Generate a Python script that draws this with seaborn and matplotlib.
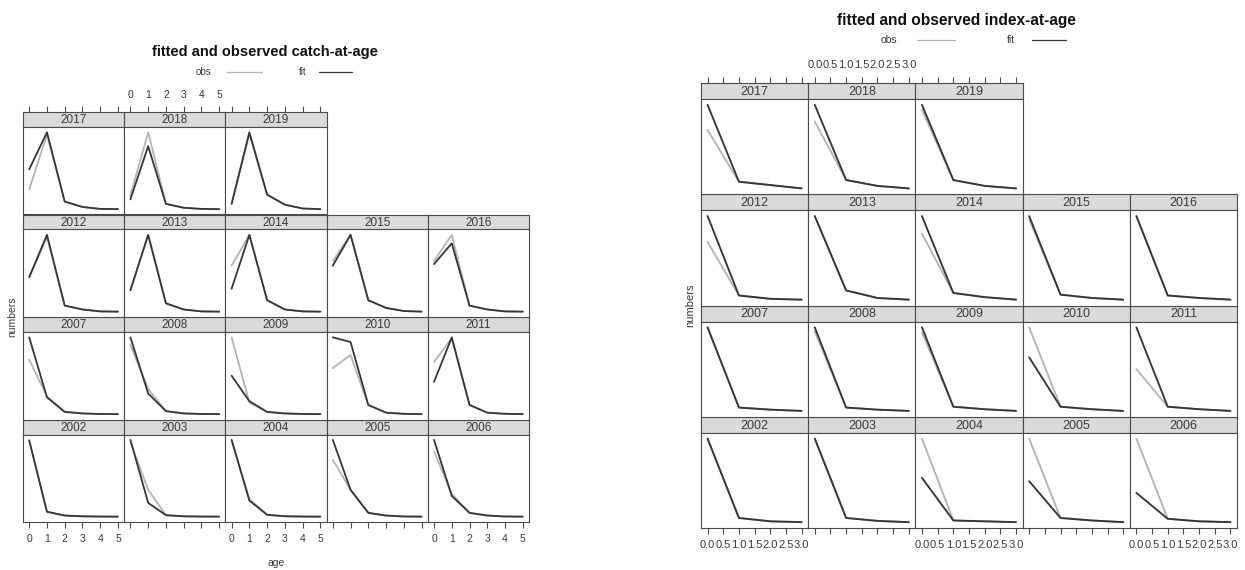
import matplotlib
matplotlib.use("Agg")
import matplotlib.pyplot as plt
from matplotlib.lines import Line2D
import pandas as pd
import seaborn as sns

sns.set_theme(style="white")
plt.rcParams["font.family"] = ["Liberation Sans", "DejaVu Sans"]

W, H = 1245, 570

years = list(range(2002, 2020))
catch_ages = [0, 1, 2, 3, 4, 5]
index_ages = [0, 1, 2, 3]

# catch-at-age, one row per year 2002..2019 (relative numbers)
catch_obs = [
    [100, 6, 1.5, 0.5, 0.2, 0.1],
    [97, 35, 2, 0.5, 0.2, 0.1],
    [99, 23, 2.5, 0.6, 0.2, 0.1],
    [74, 35, 5, 1.5, 0.3, 0.1],
    [85, 30, 5, 1.5, 0.3, 0.1],
    [71, 23, 3, 1, 0.3, 0.1],
    [90, 33, 4, 1, 0.3, 0.1],
    [100, 15, 3, 1, 0.3, 0.1],
    [60, 77, 12, 2, 0.5, 0.1],
    [68, 99, 12, 2, 0.5, 0.1],
    [45, 97, 8, 3, 0.5, 0.2],
    [28, 100, 11, 3, 0.5, 0.2],
    [60, 100, 15, 3, 0.5, 0.2],
    [66, 100, 15, 5, 1, 0.2],
    [66, 100, 8, 3, 0.5, 0.2],
    [26, 97, 10, 3, 0.5, 0.2],
    [18, 100, 7, 2, 0.5, 0.2],
    [7, 98, 19, 6, 1, 0.2],
]
catch_fit = [
    [99, 6.5, 1.5, 0.5, 0.2, 0.1],
    [100, 18, 2, 0.5, 0.2, 0.1],
    [100, 21, 2.5, 0.6, 0.2, 0.1],
    [100, 35, 5, 1.5, 0.3, 0.1],
    [100, 27, 5, 1.5, 0.3, 0.1],
    [100, 22, 3, 1, 0.3, 0.1],
    [100, 27, 4, 1, 0.3, 0.1],
    [50, 17, 3, 1, 0.3, 0.1],
    [100, 94, 12, 2, 0.5, 0.1],
    [42, 100, 12, 2, 0.5, 0.1],
    [45, 100, 8, 3, 0.5, 0.2],
    [28, 100, 11, 3, 0.5, 0.2],
    [30, 100, 15, 3, 0.5, 0.2],
    [60, 100, 15, 5, 1, 0.2],
    [62, 89, 8, 3, 0.5, 0.2],
    [52, 100, 10, 3, 0.5, 0.2],
    [13, 82, 7, 2, 0.5, 0.2],
    [7, 100, 19, 6, 1, 0.2],
]

# index-at-age, one row per year 2002..2019 (relative numbers)
index_obs = [
    [100, 5, 1, 0],
    [100, 5, 1.5, 0],
    [100, 2, 1, 0],
    [100, 5, 2, 0],
    [100, 4, 1, 0],
    [100, 4, 1.5, 0],
    [95, 4, 1.5, 0],
    [94, 5, 2, 0],
    [100, 5, 2, 0],
    [50, 5, 2, 0],
    [69, 5, 1, 0],
    [100, 11, 2, 0],
    [79, 8, 3, 0],
    [96, 6, 2, 0],
    [100, 5, 2, 0],
    [70, 8, 4, 0],
    [80, 10, 3, 0],
    [94, 10, 3, 0],
]
index_fit = [
    [100, 5, 1, 0],
    [100, 5, 1.5, 0],
    [53, 2, 1, 0],
    [49, 5, 2, 0],
    [35, 4, 1, 0],
    [100, 4, 1.5, 0],
    [100, 4, 1.5, 0],
    [100, 5, 2, 0],
    [64, 5, 2, 0],
    [100, 5, 2, 0],
    [100, 5, 1, 0],
    [100, 11, 2, 0],
    [100, 8, 3, 0],
    [100, 6, 2, 0],
    [100, 5, 2, 0],
    [100, 8, 4, 0],
    [100, 10, 3, 0],
    [100, 10, 3, 0],
]

catch_ticks = [0, 1, 2, 3, 4, 5]
catch_ticklabels = ["0", "1", "2", "3", "4", "5"]
index_ticks = [0.0, 0.5, 1.0, 1.5, 2.0, 2.5, 3.0]
index_ticklabels = ["0.0", "0.5", "1.0", "1.5", "2.0", "2.5", "3.0"]

OBS_COLOR = "#b4b4b4"
FIT_COLOR = "#363636"
STRIP_COLOR = "#dadada"
EDGE_COLOR = "#4a4a4a"
TEXT_COLOR = "#3a3a3a"


def long_frame(ages, obs, fit):
    rows = []
    for yr, o, f in zip(years, obs, fit):
        for a, v in zip(ages, o):
            rows.append((yr, a, v, "obs"))
        for a, v in zip(ages, f):
            rows.append((yr, a, v, "fit"))
    return pd.DataFrame(rows, columns=["year", "age", "numbers", "series"])


def fx(px):
    return px / W


def fy(py):
    return 1 - py / H


def style_spines(ax):
    for s in ax.spines.values():
        s.set_color(EDGE_COLOR)
        s.set_linewidth(0.8)


def draw_lattice(fig, df, ages, ticks, ticklabels, left, right, top, bottom,
                 strip_h, strip_fs, tick_fs, tick_pad, lw):
    ncol, nrow = 5, 4
    cw = (right - left) / ncol
    rh = (bottom - top) / nrow
    amin, amax = min(ages), max(ages)
    pad = 0.07 * (amax - amin)
    xlim = (amin - pad, amax + pad)
    for i, yr in enumerate(years):
        r = nrow - 1 - i // ncol
        c = i % ncol
        x0 = left + c * cw
        rt = top + r * rh
        sax = fig.add_axes([fx(x0), fy(rt + strip_h), cw / W, strip_h / H])
        ax = fig.add_axes([fx(x0), fy(rt + rh), cw / W, (rh - strip_h) / H])
        sub = df[df.year == yr]
        sns.lineplot(data=sub, x="age", y="numbers", hue="series",
                     hue_order=["obs", "fit"],
                     palette={"obs": OBS_COLOR, "fit": FIT_COLOR},
                     legend=False, ax=ax, linewidth=lw)
        lo, hi = sub.numbers.min(), sub.numbers.max()
        ypad = 0.07 * (hi - lo)
        ax.set_ylim(lo - ypad, hi + ypad)
        ax.set_xlim(xlim)
        ax.set_xlabel("")
        ax.set_ylabel("")
        ax.set_yticks([])
        ax.set_facecolor("white")
        style_spines(ax)

        # strip
        sax.set_facecolor(STRIP_COLOR)
        sax.set_xlim(xlim)
        sax.set_yticks([])
        style_spines(sax)
        sax.text(0.5, 0.45, str(yr), transform=sax.transAxes, ha="center",
                 va="center", fontsize=strip_fs, color=TEXT_COLOR)

        tick_kw = dict(direction="out", length=4.5, width=0.8,
                       color=EDGE_COLOR, labelcolor=TEXT_COLOR,
                       labelsize=tick_fs, pad=tick_pad)
        if r == nrow - 1:
            ax.set_xticks(ticks)
            ax.set_xticklabels(ticklabels)
            ax.tick_params(axis="x", bottom=True, top=False,
                           labelbottom=(c % 2 == 0), **tick_kw)
        else:
            ax.set_xticks([])
        if r == 0:
            sax.set_xticks(ticks)
            sax.set_xticklabels(ticklabels)
            sax.tick_params(axis="x", bottom=False, top=True,
                            labelbottom=False, labeltop=(c % 2 == 1),
                            **tick_kw)
        else:
            sax.set_xticks([])


def legend(fig, y, obs_x, obs_line, fit_x, fit_line, fs, lw):
    fig.text(fx(obs_x), fy(y), "obs", ha="center", va="center",
             fontsize=fs, color=TEXT_COLOR)
    fig.text(fx(fit_x), fy(y), "fit", ha="center", va="center",
             fontsize=fs, color=TEXT_COLOR)
    fig.add_artist(Line2D([fx(obs_line[0]), fx(obs_line[1])], [fy(y), fy(y)],
                          color=OBS_COLOR, lw=lw))
    fig.add_artist(Line2D([fx(fit_line[0]), fx(fit_line[1])], [fy(y), fy(y)],
                          color=FIT_COLOR, lw=lw))


fig = plt.figure(figsize=(W / 100, H / 100), dpi=100)
fig.patch.set_facecolor("white")

catch_df = long_frame(catch_ages, catch_obs, catch_fit)
index_df = long_frame(index_ages, index_obs, index_fit)

# catch-at-age lattice
draw_lattice(fig, catch_df, catch_ages, catch_ticks, catch_ticklabels,
             left=23, right=529, top=112, bottom=522, strip_h=15,
             strip_fs=8.5, tick_fs=7.5, tick_pad=4, lw=1.3)
fig.text(fx(265), fy(52), "fitted and observed catch-at-age", ha="center",
         va="center", fontsize=10.5, fontweight="bold", color="#111111")
legend(fig, 72, 203, (227, 262), 303, (319, 352), 7, 0.9)
fig.text(fx(12), fy(317), "numbers", rotation=90, ha="center", va="center",
         fontsize=7.5, color=TEXT_COLOR)
fig.text(fx(276), fy(563), "age", ha="center", va="center",
         fontsize=7.5, color=TEXT_COLOR)

# index-at-age lattice
draw_lattice(fig, index_df, index_ages, index_ticks, index_ticklabels,
             left=701, right=1237, top=83, bottom=528, strip_h=16,
             strip_fs=9, tick_fs=8, tick_pad=4.5, lw=1.35)
fig.text(fx(956), fy(20), "fitted and observed index-at-age", ha="center",
         va="center", fontsize=11.2, fontweight="bold", color="#111111")
legend(fig, 40, 889, (917, 955), 1011, (1032, 1066), 7.5, 0.9)
fig.text(fx(690), fy(305), "numbers", rotation=90, ha="center", va="center",
         fontsize=8, color=TEXT_COLOR)

fig.savefig("out.png", dpi=100, facecolor="white")
